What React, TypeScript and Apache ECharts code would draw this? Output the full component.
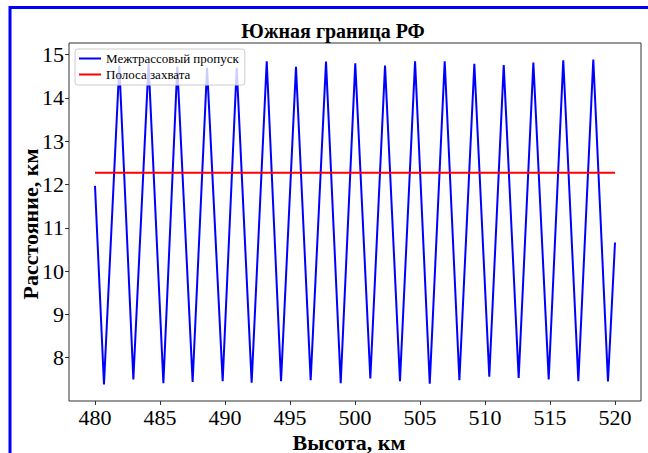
import React, { useEffect, useRef } from "react";
import * as echarts from "echarts";

// Высота, км (vertices of the inter-track gap curve)
const heightKm = [
  480.0, 480.69, 481.87, 482.95, 484.12, 485.26, 486.33, 487.51, 488.62, 489.82,
  490.9, 492.05, 493.21, 494.31, 495.46, 496.59, 497.77, 498.9, 500.02, 501.18,
  502.31, 503.46, 504.62, 505.75, 506.9, 508.03, 509.18, 510.33, 511.44, 512.59,
  513.72, 514.9, 516.02, 517.18, 518.33, 519.46, 520.0,
];
// Межтрассовый пропуск, км
const gapKm = [
  11.97, 7.38, 14.75, 7.5, 14.8, 7.41, 14.72, 7.44, 14.7, 7.46,
  14.7, 7.42, 14.85, 7.46, 14.72, 7.48, 14.84, 7.41, 14.8, 7.52,
  14.75, 7.46, 14.85, 7.4, 14.85, 7.48, 14.79, 7.56, 14.76, 7.53,
  14.82, 7.5, 14.87, 7.46, 14.89, 7.45, 10.66,
];
// Полоса захвата
const swathX = [480, 520];
const swathY = [12.27, 12.27];

const xTicks = [480, 485, 490, 495, 500, 505, 510, 515, 520];
const yTicks = [8, 9, 10, 11, 12, 13, 14, 15];

const seriesNames = ["Межтрассовый пропуск", "Полоса захвата"];
const titleText = "Южная граница РФ";
const xName = "Высота, км";
const yName = "Расстояние, км";

const SERIF = "'Liberation Serif', 'Times New Roman', serif";

export default function App() {
  const ref = useRef<HTMLDivElement>(null);
  useEffect(() => {
    if (!ref.current) return;
    const chart = echarts.init(ref.current, null, { renderer: "svg" });
    chart.setOption({
      animation: false,
      backgroundColor: "#ffffff",
      textStyle: { fontFamily: SERIF },
      grid: {
        left: 69,
        top: 43,
        width: 572,
        height: 358,
        containLabel: false,
        outerBoundsMode: "none",
        show: true,
        borderColor: "#333333",
        borderWidth: 1,
        backgroundColor: "transparent",
      },
      legend: {
        orient: "vertical",
        left: 75,
        top: 49,
        data: seriesNames.map((n) => ({ name: n, icon: "rect" })),
        itemWidth: 22,
        itemHeight: 2,
        itemGap: 3,
        padding: [3, 6, 4, 4],
        backgroundColor: "rgba(255,255,255,0.8)",
        borderColor: "#cccccc",
        borderWidth: 1,
        borderRadius: 3,
        textStyle: { fontFamily: SERIF, fontSize: 13, color: "#000", lineHeight: 13 },
      },
      xAxis: {
        type: "value",
        min: 478,
        max: 522,
        splitLine: { show: false },
        axisLine: { show: false },
        axisTick: {
          show: true,
          length: 4,
          lineStyle: { color: "#333" },
          customValues: xTicks,
        },
        axisLabel: {
          fontFamily: SERIF,
          fontSize: 22,
          lineHeight: 20,
          color: "#000",
          margin: 6,
          customValues: xTicks,
        },
      },
      yAxis: {
        type: "value",
        min: 7,
        max: 15.27,
        splitLine: { show: false },
        axisLine: { show: false },
        axisTick: {
          show: true,
          length: 4,
          lineStyle: { color: "#333" },
          customValues: yTicks,
        },
        axisLabel: {
          fontFamily: SERIF,
          fontSize: 22,
          color: "#000",
          margin: 5,
          customValues: yTicks,
        },
      },
      series: [
        {
          name: seriesNames[0],
          type: "line",
          data: heightKm.map((x, i) => [x, gapKm[i]]),
          symbol: "none",
          lineStyle: { color: "#0000ff", width: 2 },
          itemStyle: { color: "#0000ff" },
          z: 2,
        },
        {
          name: seriesNames[1],
          type: "line",
          data: swathX.map((x, i) => [x, swathY[i]]),
          symbol: "none",
          lineStyle: { color: "#ff0000", width: 2 },
          itemStyle: { color: "#ff0000" },
          z: 3,
        },
      ],
      graphic: [
        {
          type: "rect",
          silent: true,
          z: 100,
          shape: { x: 10, y: 7.5, width: 900, height: 900 },
          style: { fill: "none", stroke: "#0000ff", lineWidth: 3 },
        },
        {
          type: "text",
          x: 333,
          y: 31,
          style: {
            text: titleText,
            fill: "#000",
            fontFamily: SERIF,
            fontSize: 20,
            fontWeight: "bold",
            textAlign: "center",
            textVerticalAlign: "middle",
            verticalAlign: "middle",
          },
        },
        {
          type: "text",
          x: 349,
          y: 442,
          style: {
            text: xName,
            fill: "#000",
            fontFamily: SERIF,
            fontSize: 22,
            fontWeight: "bold",
            textAlign: "center",
            textVerticalAlign: "middle",
            verticalAlign: "middle",
          },
        },
        {
          type: "text",
          x: 30,
          y: 224,
          rotation: Math.PI / 2,
          style: {
            text: yName,
            fill: "#000",
            fontFamily: SERIF,
            fontSize: 22,
            fontWeight: "bold",
            textAlign: "center",
            textVerticalAlign: "middle",
            verticalAlign: "middle",
          },
        },
      ],
    });
    return () => chart.dispose();
  }, []);
  return (
    <div
      ref={ref}
      style={{ position: "fixed", left: 0, top: 0, width: 648, height: 453, background: "#fff" }}
    />
  );
}
